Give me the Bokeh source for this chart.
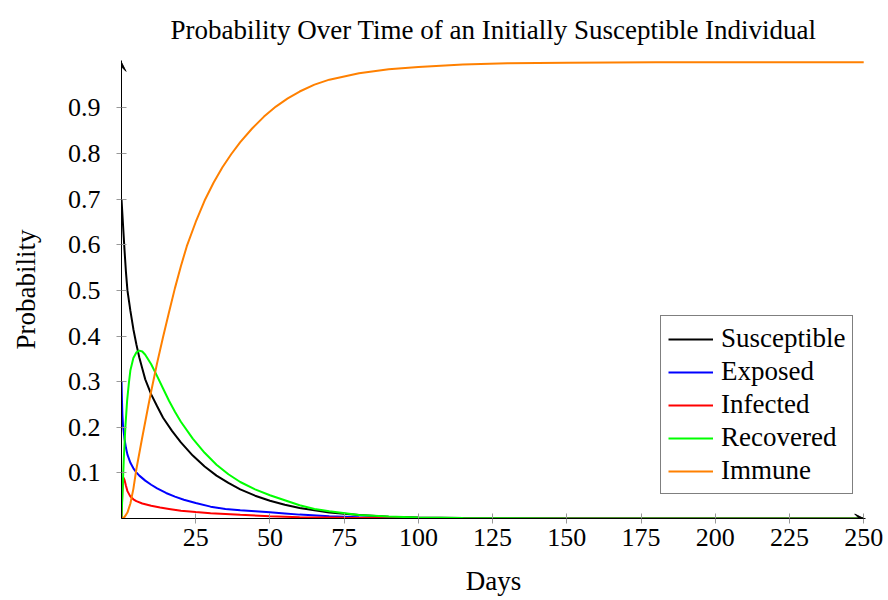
from bokeh.plotting import figure
from bokeh.models import Arrow, VeeHead, FixedTicker, Legend, LegendItem, Range1d
from bokeh.embed import file_html
from bokeh.resources import INLINE

# ---- data ----
title = "Probability Over Time of an Initially Susceptible Individual"
x_label = "Days"
y_label = "Probability"
x_ticks = [25, 50, 75, 100, 125, 150, 175, 200, 225, 250]
y_ticks = [0.1, 0.2, 0.3, 0.4, 0.5, 0.6, 0.7, 0.8, 0.9]

sus_days = [0, 0.5, 1, 1.5, 2, 3, 4, 5, 6, 7, 8, 10, 12, 14, 17, 20, 24, 28, 32, 36,
            40, 45, 50, 55, 60, 70, 80, 90, 100, 115, 130, 150, 250]
sus_vals = [0.700, 0.645, 0.590, 0.540, 0.500, 0.455, 0.415, 0.382, 0.353, 0.329, 0.305,
            0.272, 0.246, 0.221, 0.192, 0.167, 0.138, 0.114, 0.094, 0.078, 0.064, 0.050,
            0.039, 0.030, 0.023, 0.013, 0.0075, 0.004, 0.0022, 0.001, 0.0004, 0.0001, 0.0]

exp_days = [0, 0.15, 0.3, 0.5, 1, 1.5, 2, 3, 4, 5, 6, 8, 10, 12, 15, 18, 21, 25, 30, 35,
            40, 45, 50, 55, 60, 70, 80, 90, 100, 120, 250]
exp_vals = [0.300, 0.260, 0.228, 0.205, 0.175, 0.155, 0.140, 0.122, 0.110, 0.101, 0.094,
            0.083, 0.074, 0.066, 0.056, 0.048, 0.041, 0.034, 0.026, 0.021, 0.018, 0.016,
            0.0135, 0.011, 0.0085, 0.005, 0.0025, 0.0013, 0.0007, 0.0002, 0.0]

inf_days = [0, 0.3, 0.6, 1, 1.5, 2, 3, 4, 5, 7, 10, 13, 16, 20, 25, 30, 40, 50, 60, 75,
            90, 110, 250]
inf_vals = [0.0, 0.060, 0.090, 0.085, 0.072, 0.060, 0.048, 0.042, 0.038, 0.033, 0.028,
            0.024, 0.021, 0.017, 0.014, 0.0115, 0.008, 0.005, 0.003, 0.0015, 0.0008,
            0.0003, 0.0]

rec_days = [0, 0.3, 0.8, 1.3, 1.9, 2.5, 3, 4, 5, 6, 7, 8, 10, 12, 14, 16, 18, 20, 24, 28,
            32, 36, 40, 45, 50, 55, 60, 65, 70, 80, 90, 100, 115, 130, 150, 250]
rec_vals = [0.0, 0.050, 0.135, 0.200, 0.259, 0.298, 0.325, 0.352, 0.364, 0.368, 0.366,
            0.359, 0.338, 0.312, 0.285, 0.258, 0.234, 0.212, 0.175, 0.144, 0.118, 0.097,
            0.080, 0.064, 0.051, 0.040, 0.029, 0.021, 0.016, 0.0078, 0.0042, 0.0022,
            0.001, 0.0004, 0.0001, 0.0]

imm_days = [0, 1, 2, 3, 4, 5, 6, 7, 8, 9, 10, 12, 14, 16, 18, 20, 22, 25, 28, 31, 34, 37,
            40, 44, 48, 52, 56, 60, 65, 70, 80, 90, 100, 115, 130, 150, 180, 250]
imm_vals = [0.0, 0.003, 0.013, 0.033, 0.065, 0.108, 0.143, 0.178, 0.212, 0.246, 0.279,
            0.341, 0.398, 0.452, 0.505, 0.553, 0.597, 0.650, 0.697, 0.736, 0.770, 0.799,
            0.825, 0.855, 0.881, 0.903, 0.921, 0.936, 0.951, 0.962, 0.976, 0.985, 0.990,
            0.995, 0.998, 0.999, 1.0, 1.0]

series = [
    ("Susceptible", sus_days, sus_vals, "#000000"),
    ("Exposed", exp_days, exp_vals, "#0000ff"),
    ("Infected", inf_days, inf_vals, "#ff0000"),
    ("Recovered", rec_days, rec_vals, "#00ff00"),
    ("Immune", imm_days, imm_vals, "#ff8000"),
]

FONT = "Liberation Serif"

p = figure(width=888, height=600, x_range=Range1d(0, 250.6), y_range=Range1d(0, 1.004),
           output_backend="svg", toolbar_location=None,
           min_border_left=121, min_border_right=23, min_border_top=0, min_border_bottom=82)

p.title.text = title
p.title.align = "center"
p.title.vertical_align = "top"
p.title.text_font = FONT
p.title.text_font_size = "27px"
p.title.text_font_style = "normal"
p.title.text_color = "#000000"
p.title.standoff = 28

p.grid.visible = False
p.outline_line_color = None
p.background_fill_color = "white"
p.border_fill_color = "white"

for ax in (p.xaxis[0], p.yaxis[0]):
    ax.axis_line_color = "black"
    ax.axis_line_width = 1
    ax.major_tick_line_color = "#999999"
    ax.major_tick_line_width = 1
    ax.major_tick_in = 5
    ax.major_tick_out = 5
    ax.minor_tick_line_color = None
    ax.major_label_text_font = FONT
    ax.major_label_text_font_size = "26px"
    ax.major_label_text_color = "black"
    ax.axis_label_text_font = FONT
    ax.axis_label_text_font_size = "27px"
    ax.axis_label_text_font_style = "normal"
    ax.axis_label_text_color = "black"

p.xaxis[0].ticker = FixedTicker(ticks=x_ticks)
p.yaxis[0].ticker = FixedTicker(ticks=y_ticks)
p.xaxis[0].axis_label = x_label
p.yaxis[0].axis_label = y_label
p.xaxis[0].major_label_standoff = 5
p.xaxis[0].axis_label_standoff = 17
p.yaxis[0].major_label_standoff = 16
p.yaxis[0].axis_label_standoff = 24

items = []
for name, xs, ys, col in series:
    r = p.line(xs, ys, line_color=col, line_width=2)
    items.append(LegendItem(label=name, renderers=[r]))

# axis arrow heads
p.add_layout(Arrow(end=VeeHead(size=9, line_color="black", line_width=1, fill_color="black"),
                   x_start=0, y_start=0, x_end=250, y_end=0,
                   line_color="black", line_width=1))
p.add_layout(Arrow(end=VeeHead(size=9, line_color="black", line_width=1, fill_color="black"),
                   x_start=0, y_start=0, x_end=0, y_end=1.0,
                   line_color="black", line_width=1))

legend = Legend(items=items, location=(539, 24))
legend.label_text_font = FONT
legend.label_text_font_size = "27px"
legend.label_text_color = "black"
legend.glyph_width = 45
legend.glyph_height = 30
legend.label_height = 30
legend.spacing = 2
legend.padding = 7
legend.margin = 0
legend.label_standoff = 8
legend.border_line_color = "black"
legend.border_line_width = 1
legend.background_fill_color = "white"
legend.background_fill_alpha = 1
p.add_layout(legend, "center")

open("out.html", "w").write(file_html(p, INLINE))
